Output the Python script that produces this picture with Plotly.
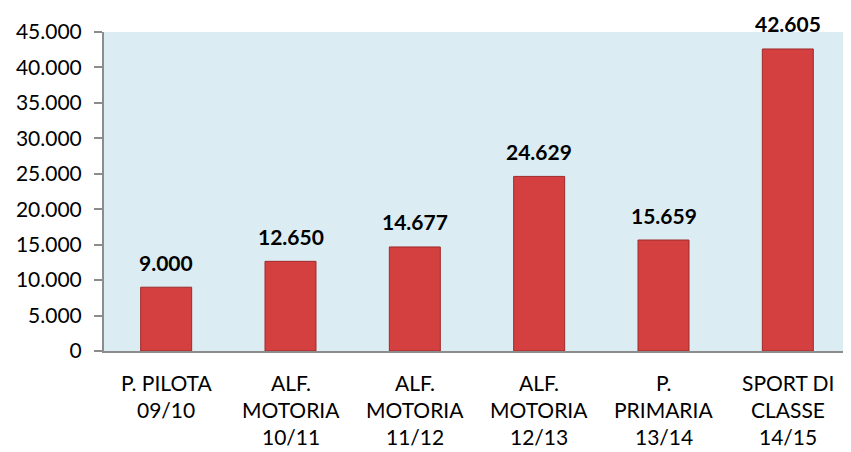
import plotly.graph_objects as go

categories = ["P. PILOTA 09/10", "ALF. MOTORIA 10/11", "ALF. MOTORIA 11/12",
              "ALF. MOTORIA 12/13", "P. PRIMARIA 13/14", "SPORT DI CLASSE 14/15"]
label_lines = [
    ["P. PILOTA", "09/10"],
    ["ALF.", "MOTORIA", "10/11"],
    ["ALF.", "MOTORIA", "11/12"],
    ["ALF.", "MOTORIA", "12/13"],
    ["P.", "PRIMARIA", "13/14"],
    ["SPORT DI", "CLASSE", "14/15"],
]
values = [9000, 12650, 14677, 24629, 15659, 42605]
y_ticks = list(range(0, 45001, 5000))

FONT = "Lato"


def it_num(v):
    return f"{v:,}".replace(",", ".")


fig = go.Figure(
    go.Bar(
        x=categories,
        y=values,
        width=0.41,
        marker={"color": "#D43F3F", "line": {"color": "#9E2A2A", "width": 1}},
        hoverinfo="x+y",
    )
)

annotations = []
for cat, v in zip(categories, values):
    annotations.append(dict(
        x=cat, y=v, xref="x", yref="y", text=f"<b>{it_num(v)}</b>",
        showarrow=False, yanchor="middle", yshift=25,
        font={"family": FONT, "size": 21, "color": "#000"},
    ))
# category labels: one annotation per line, spaced wider than tick labels allow
for cat, lines in zip(categories, label_lines):
    for i, line in enumerate(lines):
        annotations.append(dict(
            x=cat, y=0, xref="x", yref="y", text=line,
            showarrow=False, yanchor="middle", yshift=-(31 + 27 * i),
            font={"family": FONT, "size": 21, "color": "#000"},
        ))

# the page body adds an 8px margin, so the figure is sized to the remaining window
fig.update_layout(
    width=843,
    height=444,
    margin={"l": 96, "r": 1, "t": 24, "b": 101},
    paper_bgcolor="white",
    plot_bgcolor="#DBEDF3",
    showlegend=False,
    font={"family": FONT, "size": 21, "color": "#000"},
    annotations=annotations,
    xaxis={
        "showticklabels": False,
        "showline": True,
        "linecolor": "#8C8C8C",
        "linewidth": 2,
        "showgrid": False,
        "ticks": "",
    },
    yaxis={
        "range": [0, 45000],
        "tickvals": y_ticks,
        "ticktext": [it_num(t) for t in y_ticks],
        "ticks": "outside",
        "ticklen": 8,
        "tickcolor": "#8C8C8C",
        "tickwidth": 2,
        "showline": True,
        "linecolor": "#8C8C8C",
        "linewidth": 2,
        "showgrid": False,
        "zeroline": False,
        "ticklabelstandoff": 8,
        "tickfont": {"family": FONT, "size": 21, "color": "#000"},
    },
)

fig.write_html("out.html")
